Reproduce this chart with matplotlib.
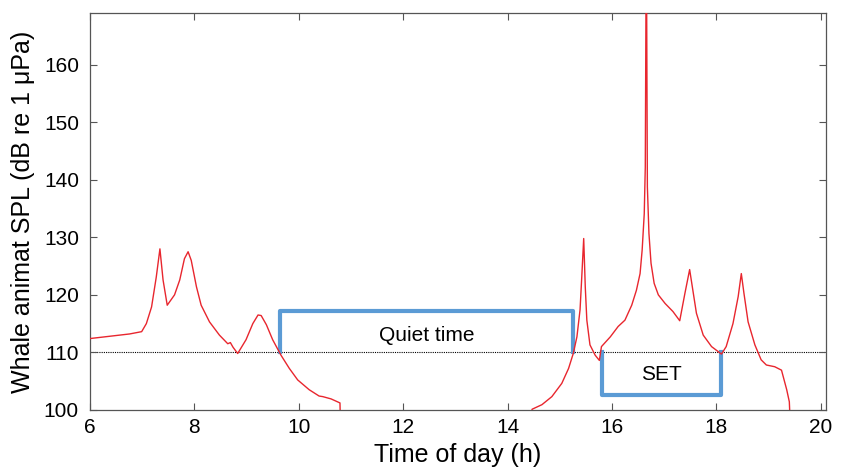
import numpy as np
import matplotlib.pyplot as plt

plt.rcParams['font.family'] = ['Liberation Sans', 'DejaVu Sans']

# morning segment (hours, dB)
t_am = [6.0, 6.76, 6.99, 7.08, 7.18, 7.27, 7.34, 7.40, 7.48, 7.62, 7.72, 7.81, 7.88,
        7.94, 8.04, 8.13, 8.29, 8.48, 8.64, 8.69, 8.74, 8.83, 8.99, 9.12, 9.22, 9.28,
        9.38, 9.50, 9.66, 9.82, 9.98, 10.20, 10.39, 10.46, 10.62, 10.79, 10.80]
spl_am = [112.4, 113.2, 113.6, 115.0, 117.9, 123.1, 128.0, 122.6, 118.2, 120.0, 122.6,
          126.3, 127.5, 126.0, 121.4, 118.2, 115.3, 113.0, 111.5, 111.7, 110.9, 109.8,
          112.2, 115.0, 116.5, 116.4, 114.8, 112.2, 109.5, 107.2, 105.2, 103.5, 102.4,
          102.3, 101.9, 101.2, 97.0]

# afternoon segment
t_pm = [14.46, 14.47, 14.66, 14.85, 15.04, 15.17, 15.26, 15.33, 15.39, 15.42, 15.46,
        15.49, 15.52, 15.58, 15.68, 15.76, 15.80, 15.97, 16.12, 16.25, 16.38, 16.47,
        16.54, 16.58, 16.62, 16.64, 16.66, 16.68, 16.71, 16.75, 16.81, 16.89, 17.02,
        17.17, 17.30, 17.40, 17.49, 17.56, 17.62, 17.75, 17.91, 18.10, 18.19, 18.32,
        18.42, 18.48, 18.53, 18.61, 18.74, 18.86, 18.96, 19.12, 19.25, 19.35, 19.40,
        19.42]
spl_pm = [97.0, 100.1, 100.9, 102.3, 104.6, 107.2, 109.8, 112.7, 117.4, 122.6, 129.8,
          121.4, 115.6, 111.3, 109.5, 108.6, 111.0, 112.7, 114.5, 115.6, 118.2, 120.8,
          123.7, 127.8, 134.1, 142.2, 185.0, 138.8, 130.7, 125.5, 122.0, 120.0, 118.5,
          117.1, 115.5, 120.3, 124.4, 120.3, 116.8, 113.0, 111.0, 109.7, 111.0, 115.0,
          119.7, 123.7, 120.3, 115.3, 111.3, 108.7, 107.8, 107.5, 106.9, 103.5, 101.4,
          97.0]

threshold = 110
quiet_start, quiet_end, quiet_level = 9.65, 15.26, 117.2
set_start, set_end, set_level = 15.81, 18.10, 102.5

fig = plt.figure(figsize=(8.41, 4.70), dpi=100)
ax = fig.add_axes([0.107, 0.128, 0.875, 0.844])

ax.axhline(threshold, color='black', lw=0.8, ls=(0, (1, 1)), zorder=1)

ax.plot(t_am, spl_am, color='#e8262e', lw=1.0, zorder=3)
ax.plot(t_pm, spl_pm, color='#e8262e', lw=1.0, zorder=3)

box_color = '#5b9bd5'
ax.plot([quiet_start, quiet_start, quiet_end, quiet_end],
        [threshold, quiet_level, quiet_level, threshold], color=box_color, lw=3, zorder=2)
ax.plot([set_start, set_start, set_end, set_end],
        [threshold, set_level, set_level, threshold], color=box_color, lw=3, zorder=2)

ax.text((quiet_start + quiet_end) / 2, 112.9, 'Quiet time', ha='center', va='center', fontsize=15)
ax.text((set_start + set_end) / 2, 106.2, 'SET', ha='center', va='center', fontsize=15)

ax.set_xlim(6, 20.1)
ax.set_ylim(100, 169)
ax.set_xticks(np.arange(6, 21, 2))
ax.set_yticks(np.arange(100, 161, 10))
ax.tick_params(direction='in', top=True, right=True, length=5, width=0.8,
               color='#555555', labelsize=15)
ax.tick_params(axis='x', pad=6)
ax.tick_params(axis='y', pad=8)
for s in ax.spines.values():
    s.set_color('#555555')
    s.set_linewidth(0.9)

ax.set_xlabel('Time of day (h)', fontsize=18, labelpad=4)
ax.set_ylabel('Whale animat SPL (dB re 1 μPa)', fontsize=18, labelpad=6)

fig.savefig('out.png', dpi=100)
